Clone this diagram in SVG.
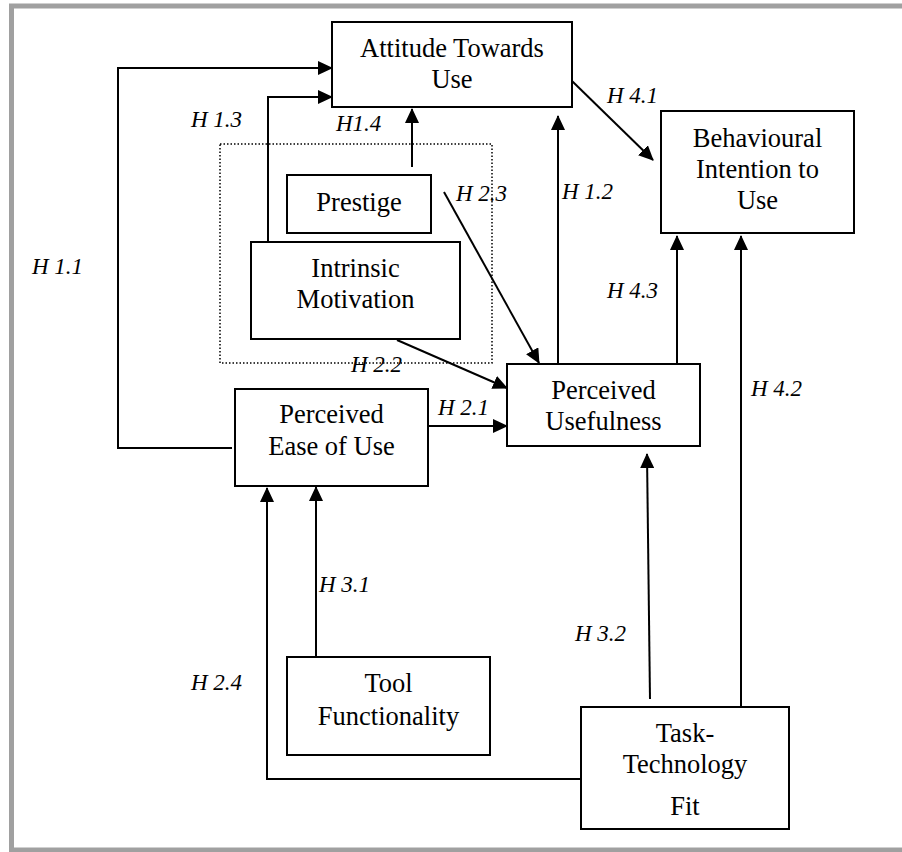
<svg xmlns="http://www.w3.org/2000/svg" width="902" height="852" viewBox="0 0 902 852">
<style>
.box{fill:#fff;stroke:#000;stroke-width:2}
.nt{font-family:"Liberation Serif","Times New Roman",serif;font-size:26.5px;fill:#000;text-anchor:middle}
.lb{font-family:"Liberation Serif","Times New Roman",serif;font-size:23px;font-style:italic;fill:#000}
.cn{fill:none;stroke:#000;stroke-width:2;marker-end:url(#ah)}
.ln{fill:none;stroke:#000;stroke-width:2}
</style>
<defs>
<marker id="ah" markerUnits="userSpaceOnUse" markerWidth="15" markerHeight="14" refX="14" refY="7" orient="auto">
<path d="M0,0 L15,7 L0,14 z" fill="#000"/>
</marker>
</defs>
<rect x="0" y="0" width="902" height="852" fill="#fff"/>
<rect x="11.5" y="6" width="900" height="844" fill="none" stroke="#a0a0a0" stroke-width="5"/>
<rect id="group-box" x="220" y="144" width="272" height="219" fill="none" stroke="#000" stroke-width="1.5" stroke-dasharray="1.5,2"/>

<g id="connectors">
<polyline class="cn" points="232,448 118,448 118,68 332,68"/>
<polyline class="cn" points="268,242 268,97 332,97"/>
<line class="cn" x1="412" y1="167" x2="412" y2="109"/>
<line class="cn" x1="444" y1="192" x2="539" y2="363"/>
<line class="cn" x1="397" y1="340" x2="507" y2="388"/>
<line class="cn" x1="428" y1="426" x2="507" y2="426"/>
<line class="cn" x1="558" y1="364" x2="558" y2="116"/>
<line class="cn" x1="572" y1="81" x2="653" y2="160"/>
<line class="cn" x1="677" y1="364" x2="677" y2="236"/>
<line class="cn" x1="741" y1="707" x2="741" y2="236"/>
<line class="cn" x1="650" y1="699" x2="647" y2="454"/>
<line class="cn" x1="316" y1="657" x2="316" y2="487"/>
<polyline class="cn" points="581,779 267,779 267,488"/>
</g>

<g id="labels">
<text class="lb" x="32" y="274">H 1.1</text>
<text class="lb" x="191" y="127">H 1.3</text>
<text class="lb" x="336" y="131">H1.4</text>
<text class="lb" x="456" y="201">H 2.3</text>
<text class="lb" x="562" y="199">H 1.2</text>
<text class="lb" x="607" y="103">H 4.1</text>
<text class="lb" x="607" y="298">H 4.3</text>
<text class="lb" x="351" y="372">H 2.2</text>
<text class="lb" x="438" y="415">H 2.1</text>
<text class="lb" x="751" y="396">H 4.2</text>
<text class="lb" x="319" y="592">H 3.1</text>
<text class="lb" x="191" y="690">H 2.4</text>
<text class="lb" x="575" y="641">H 3.2</text>
</g>

<g id="attitude">
<rect class="box" x="332" y="22" width="240" height="85"/>
<text class="nt" x="452" y="57">Attitude Towards</text>
<text class="nt" x="452" y="88">Use</text>
</g>
<g id="behavioural">
<rect class="box" x="661" y="111" width="193" height="122"/>
<text class="nt" x="757.5" y="147">Behavioural</text>
<text class="nt" x="757.5" y="178">Intention to</text>
<text class="nt" x="757.5" y="209">Use</text>
</g>
<g id="prestige">
<rect class="box" x="287" y="175" width="144" height="58"/>
<text class="nt" x="359" y="211">Prestige</text>
</g>
<g id="intrinsic">
<rect class="box" x="251" y="242" width="209" height="97"/>
<text class="nt" x="355.5" y="277">Intrinsic</text>
<text class="nt" x="355.5" y="308">Motivation</text>
</g>
<g id="peou">
<rect class="box" x="235" y="389" width="193" height="97"/>
<text class="nt" x="331.5" y="423">Perceived</text>
<text class="nt" x="331.5" y="455">Ease of Use</text>
</g>
<g id="pu">
<rect class="box" x="507" y="364" width="193" height="82"/>
<text class="nt" x="603.5" y="399">Perceived</text>
<text class="nt" x="603.5" y="430">Usefulness</text>
</g>
<g id="tool">
<rect class="box" x="287" y="657" width="203" height="98"/>
<text class="nt" x="388.5" y="692">Tool</text>
<text class="nt" x="388.5" y="725">Functionality</text>
</g>
<g id="ttf">
<rect class="box" x="581" y="707" width="208" height="122"/>
<text class="nt" x="685" y="742">Task-</text>
<text class="nt" x="685" y="773">Technology</text>
<text class="nt" x="685" y="815">Fit</text>
</g>
</svg>
